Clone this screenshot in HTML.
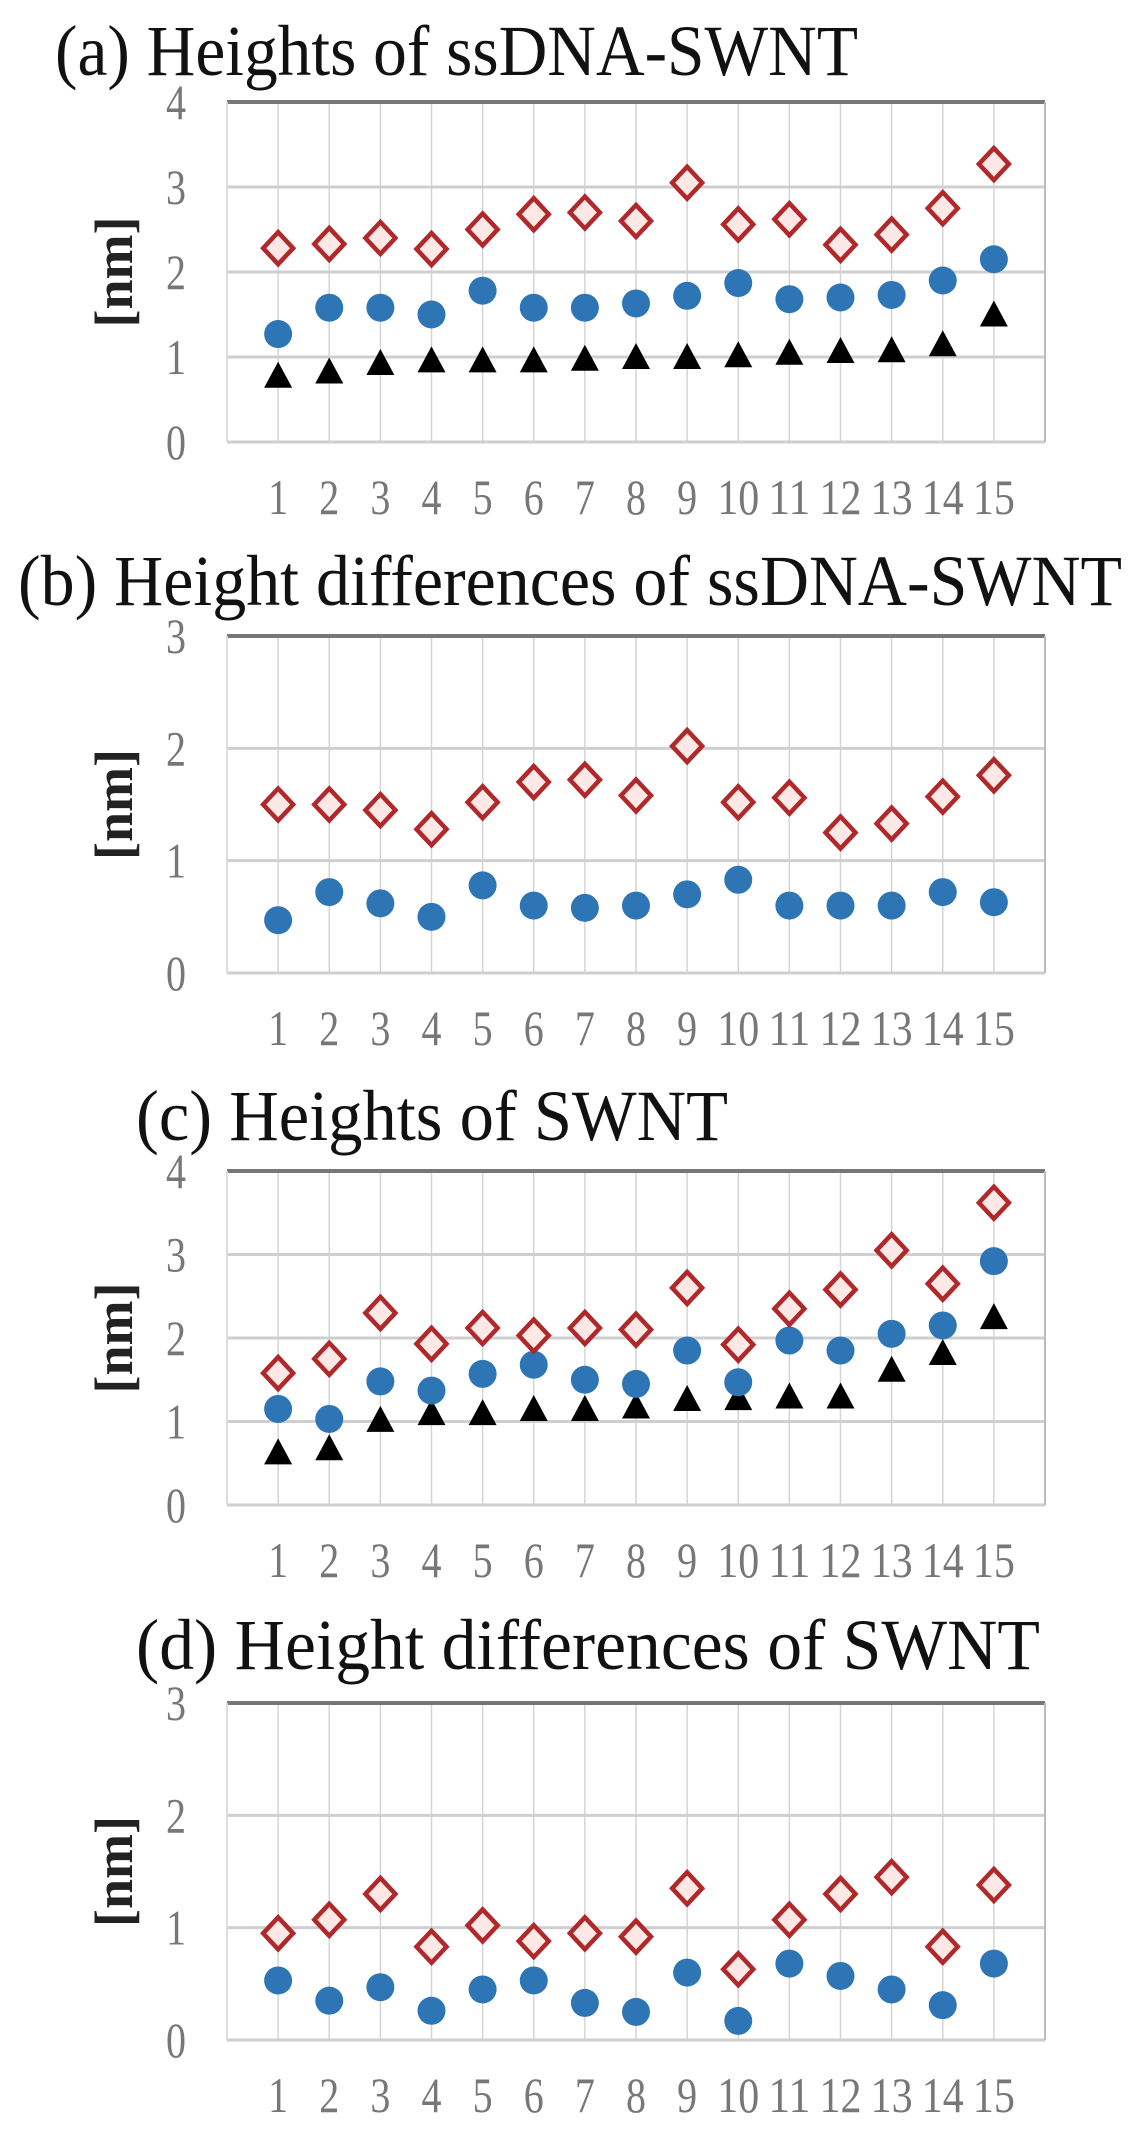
<!DOCTYPE html>
<html><head><meta charset="utf-8"><style>
html,body{margin:0;padding:0;background:#fff;}
svg{display:block;}
text{font-family:"Liberation Serif",serif;}
</style></head><body>
<svg id="fig" width="1144" height="2130" viewBox="0 0 1144 2130" xmlns="http://www.w3.org/2000/svg"></svg>
<script>
const categories=["1","2","3","4","5","6","7","8","9","10","11","12","13","14","15"];
const aTicks=["0","1","2","3","4"];
const bTicks=["0","1","2","3"];
const aDiamond=[2.28,2.33,2.4,2.27,2.5,2.68,2.7,2.6,3.05,2.56,2.62,2.32,2.44,2.75,3.27];
const aCircle=[1.27,1.58,1.58,1.5,1.78,1.58,1.58,1.63,1.72,1.87,1.68,1.7,1.73,1.9,2.15];
const aTriangle=[0.78,0.83,0.93,0.96,0.96,0.96,0.98,1.0,1.0,1.02,1.05,1.07,1.08,1.15,1.5];
const bDiamond=[1.5,1.5,1.45,1.28,1.52,1.7,1.72,1.58,2.02,1.52,1.56,1.25,1.33,1.57,1.76];
const bCircle=[0.47,0.72,0.62,0.5,0.78,0.6,0.58,0.6,0.7,0.83,0.6,0.6,0.6,0.72,0.63];
const cDiamond=[1.58,1.75,2.3,1.93,2.12,2.03,2.12,2.1,2.6,1.92,2.35,2.58,3.05,2.65,3.62];
const cCircle=[1.15,1.03,1.48,1.37,1.57,1.68,1.5,1.45,1.85,1.47,1.97,1.85,2.05,2.15,2.92];
const cTriangle=[0.63,0.68,1.02,1.1,1.1,1.15,1.15,1.18,1.27,1.28,1.3,1.3,1.62,1.82,2.25];
const dDiamond=[0.95,1.07,1.3,0.83,1.02,0.88,0.95,0.92,1.35,0.63,1.07,1.3,1.45,0.83,1.38];
const dCircle=[0.53,0.35,0.47,0.26,0.45,0.53,0.33,0.25,0.6,0.17,0.68,0.57,0.45,0.31,0.68];

const NS="http://www.w3.org/2000/svg";
const svg=document.getElementById('fig');
function mk(tag,attrs,parent){const e=document.createElementNS(NS,tag);for(const k in attrs)e.setAttribute(k,attrs[k]);(parent||svg).appendChild(e);return e;}

function panel(key,title,titleX,titleBase,titleLen,top,bottom,ticks,diam,circ,tri){
  const g=mk('g',{});
  
  
  const L=227,R=1045,ymax=ticks.length-1;
  const x=i=>L+(i+1)*(R-L)/16;
  const y=v=>bottom-(v/ymax)*(bottom-top);
  const t=mk('text',{x:titleX,y:titleBase,'font-size':72,fill:'#111',textLength:titleLen,lengthAdjust:'spacingAndGlyphs'},g);
  t.textContent=title;
  
  
  categories.forEach((c,i)=>{
    const l=mk('line',{x1:x(i),x2:x(i),y1:top,y2:bottom,stroke:'#d4d4d4','stroke-width':1.5},g);
    
    
  });
  ticks.forEach((tk,i)=>{
    const yy=y(i);
    const l=mk('line',{x1:L,x2:R,y1:yy,y2:yy,stroke:i===ymax?'#777':'#cfcfcf','stroke-width':i===ymax?4:3},g);
    
    
    const tt=mk('text',{x:186,y:yy+17,'font-size':50,fill:'#777','text-anchor':'end',textLength:20,lengthAdjust:'spacingAndGlyphs'},g);
    tt.textContent=tk;
    
    
  });
  const rb=mk('line',{x1:R,x2:R,y1:top,y2:bottom,stroke:'#bbb','stroke-width':2},g);
  
  
  const lb=mk('line',{x1:L,x2:L,y1:top,y2:bottom,stroke:'#ddd','stroke-width':2},g);
  
  
  const cy=(top+bottom)/2;
  const yl=mk('text',{x:0,y:0,'font-size':54,'font-weight':'bold',fill:'#222','text-anchor':'middle',transform:`translate(132,${cy}) rotate(-90)`},g);
  yl.textContent='[nm]';
  
  
  categories.forEach((c,i)=>{
    const tt=mk('text',{x:x(i),y:bottom+72,'font-size':50,fill:'#777','text-anchor':'middle',textLength:c.length>1?42:20,lengthAdjust:'spacingAndGlyphs'},g);
    tt.textContent=c;
    
    
  });
  if(tri){tri.forEach((v,i)=>{
    const cx=x(i),yy=y(v);
    const p=mk('polygon',{points:`${cx},${yy-14} ${cx+14},${yy+12} ${cx-14},${yy+12}`,fill:'#000'},g);
    
    
  });}
  circ.forEach((v,i)=>{
    const c=mk('circle',{cx:x(i),cy:y(v),r:14,fill:'#2e75b6'},g);
    
    
  });
  diam.forEach((v,i)=>{
    const cx=x(i),yy=y(v);
    const p=mk('polygon',{points:`${cx},${yy-16} ${cx+15},${yy} ${cx},${yy+16} ${cx-15},${yy}`,fill:'#fde8e6',stroke:'#b0282a','stroke-width':4.5},g);
    
    
  });
}
panel('a','(a) Heights of ssDNA-SWNT',55,75,803,102,442,aTicks,aDiamond,aCircle,aTriangle);
panel('b','(b) Height differences of ssDNA-SWNT',18,605,1104,636,973,bTicks,bDiamond,bCircle,null);
panel('c','(c) Heights of SWNT',136,1140,592,1171,1505,aTicks,cDiamond,cCircle,cTriangle);
panel('d','(d) Height differences of SWNT',136,1669,904,1703,2040,bTicks,dDiamond,dCircle,null);
</script>
</body></html>
